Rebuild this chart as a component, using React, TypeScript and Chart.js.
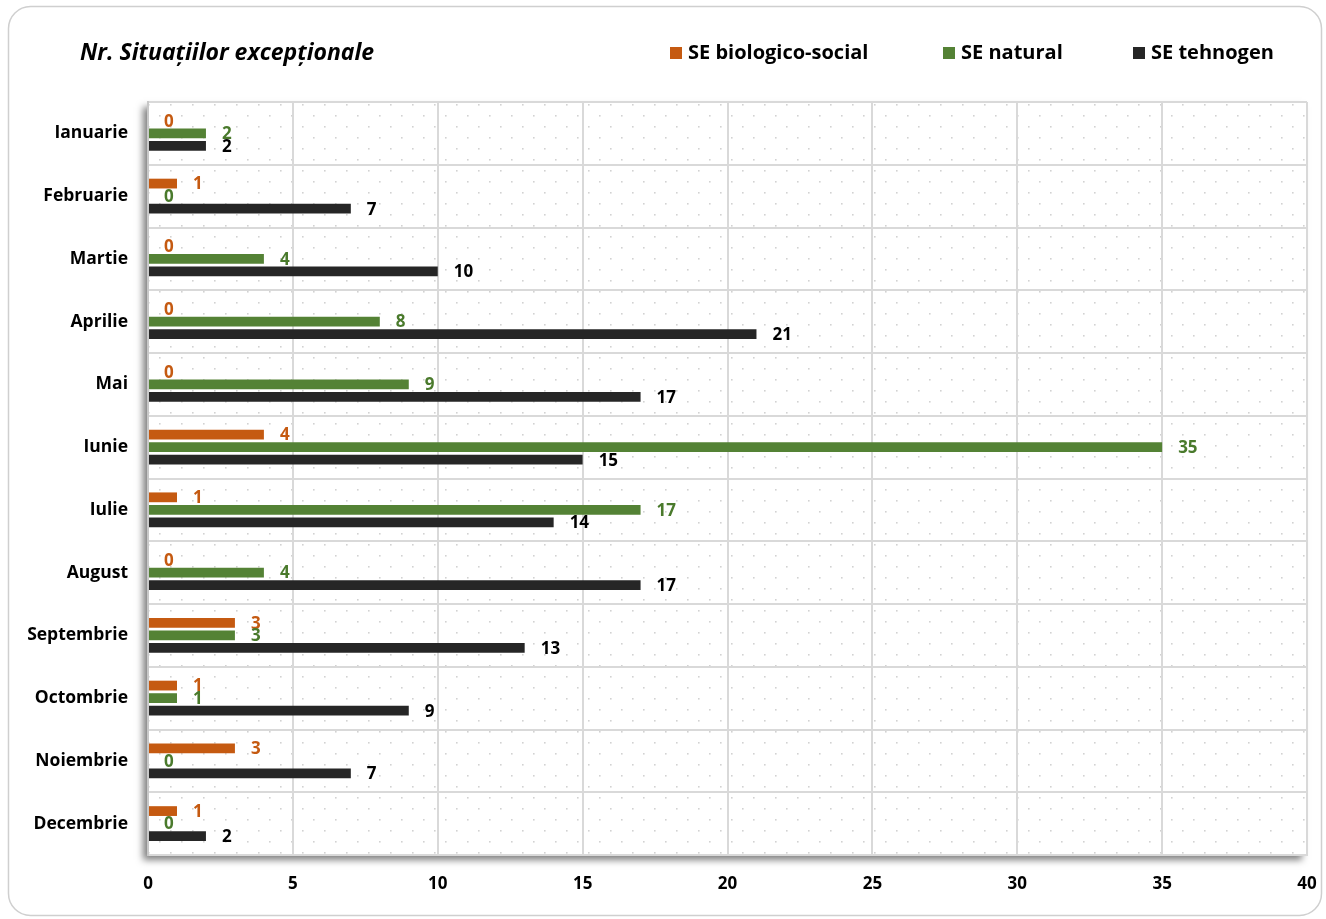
import React, { useEffect, useRef } from "react";
import { Chart, registerables } from "chart.js";

Chart.register(...registerables);

const months = [
  "Ianuarie", "Februarie", "Martie", "Aprilie", "Mai", "Iunie",
  "Iulie", "August", "Septembrie", "Octombrie", "Noiembrie", "Decembrie",
];
const biologicoSocial = [0, 1, 0, 0, 0, 4, 1, 0, 3, 1, 3, 1];
const natural = [2, 0, 4, 8, 9, 35, 17, 4, 3, 1, 0, 0];
const tehnogen = [2, 7, 10, 21, 17, 15, 14, 17, 13, 9, 7, 2];
const seriesNames = ["SE biologico-social", "SE natural", "SE tehnogen"];
const chartTitle = "Nr. Situațiilor excepționale";

const FONT = "'Open Sans', 'Noto Sans', sans-serif";
const barColors = ["#C55A11", "#548235", "#262626"];
const labelColors = ["#C55A11", "#4A7A2C", "#000000"];

function makePattern(ctx: CanvasRenderingContext2D) {
  const c = document.createElement("canvas");
  c.width = 22;
  c.height = 22;
  const p = c.getContext("2d")!;
  p.fillStyle = "#d2d2d2";
  p.fillRect(5, 5, 1.6, 1.6);
  p.fillRect(16, 16, 1.6, 1.6);
  return ctx.createPattern(c, "repeat");
}

const backgroundPlugin = {
  id: "bgDeco",
  beforeDraw(chart: any) {
    const ctx: CanvasRenderingContext2D = chart.ctx;
    const { left, top, right, bottom } = chart.chartArea;
    ctx.save();
    ctx.fillStyle = "#ffffff";
    ctx.fillRect(0, 0, chart.width, chart.height);
    ctx.strokeStyle = "#cfcfcf";
    ctx.lineWidth = 1.5;
    ctx.beginPath();
    (ctx as any).roundRect(8.5, 6.5, 1313, 909, 22);
    ctx.stroke();
    ctx.fillStyle = "#000";
    ctx.font = `italic bold 23px ${FONT}`;
    ctx.textAlign = "left";
    ctx.textBaseline = "middle";
    ctx.fillText(chartTitle, 80, 53);
    const legendX = [670, 943, 1133];
    ctx.font = `bold 20px ${FONT}`;
    legendX.forEach((x, i) => {
      ctx.fillStyle = barColors[i];
      ctx.fillRect(x, 47, 12, 12);
      ctx.fillStyle = "#000";
      ctx.fillText(seriesNames[i], x + 18, 53);
    });
    ctx.save();
    ctx.shadowColor = "rgba(0,0,0,0.5)";
    ctx.shadowBlur = 7;
    ctx.shadowOffsetX = -5;
    ctx.shadowOffsetY = 5;
    ctx.fillStyle = "#ffffff";
    ctx.fillRect(left, top, right - left, bottom - top);
    ctx.restore();
    const pat = makePattern(ctx);
    if (pat) {
      ctx.fillStyle = pat;
      ctx.fillRect(left, top, right - left, bottom - top);
    }
    ctx.restore();
  },
};

const labelPlugin = {
  id: "valueLabels",
  afterDatasetsDraw(chart: any) {
    const ctx: CanvasRenderingContext2D = chart.ctx;
    ctx.save();
    ctx.font = `bold 17px ${FONT}`;
    ctx.textAlign = "left";
    ctx.textBaseline = "middle";
    chart.data.datasets.forEach((ds: any, di: number) => {
      const meta = chart.getDatasetMeta(di);
      meta.data.forEach((el: any, i: number) => {
        ctx.fillStyle = labelColors[di];
        ctx.fillText(String(ds.data[i]), el.x + 16, el.y + 1);
      });
    });
    ctx.restore();
  },
};

export default function App() {
  const ref = useRef<HTMLCanvasElement>(null);
  useEffect(() => {
    if (!ref.current) return;
    const chart = new Chart(ref.current, {
      type: "bar",
      data: {
        labels: months,
        datasets: [
          { label: seriesNames[0], data: biologicoSocial, backgroundColor: barColors[0] },
          { label: seriesNames[1], data: natural, backgroundColor: barColors[1] },
          { label: seriesNames[2], data: tehnogen, backgroundColor: barColors[2] },
        ],
      },
      options: {
        indexAxis: "y",
        animation: false,
        responsive: true,
        maintainAspectRatio: false,
        devicePixelRatio: 1,
        categoryPercentage: 0.6,
        barPercentage: 0.78,
        layout: { padding: { top: 102, right: 19, left: 0, bottom: 0 } },
        plugins: {
          legend: { display: false },
          title: { display: false },
          tooltip: { enabled: false },
        },
        scales: {
          x: {
            min: 0,
            max: 40,
            ticks: {
              stepSize: 5,
              color: "#000",
              font: { family: FONT, size: 17, weight: "bold" },
              padding: 19,
            },
            grid: { color: "#d9d9d9", lineWidth: 2, drawTicks: false },
            border: { display: true, color: "#d9d9d9", width: 2 },
            afterFit(scale: any) {
              scale.height = 64;
              scale.paddingLeft = 0;
              scale.paddingRight = 0;
            },
          },
          y: {
            ticks: {
              color: "#000",
              font: { family: FONT, size: 17.5, weight: "bold" },
              padding: 20,
            },
            grid: { color: "#d9d9d9", lineWidth: 2, drawTicks: false, offset: true },
            border: { display: true, color: "#c8c8c8", width: 2 },
            afterFit(scale: any) {
              scale.width = 148;
              scale.paddingTop = 0;
              scale.paddingBottom = 0;
            },
          },
        },
      } as any,
      plugins: [backgroundPlugin, labelPlugin],
    });
    return () => chart.destroy();
  }, []);
  return (
    <div style={{ position: "absolute", left: 0, top: 0, width: 1326, height: 919 }}>
      <canvas ref={ref} />
    </div>
  );
}
